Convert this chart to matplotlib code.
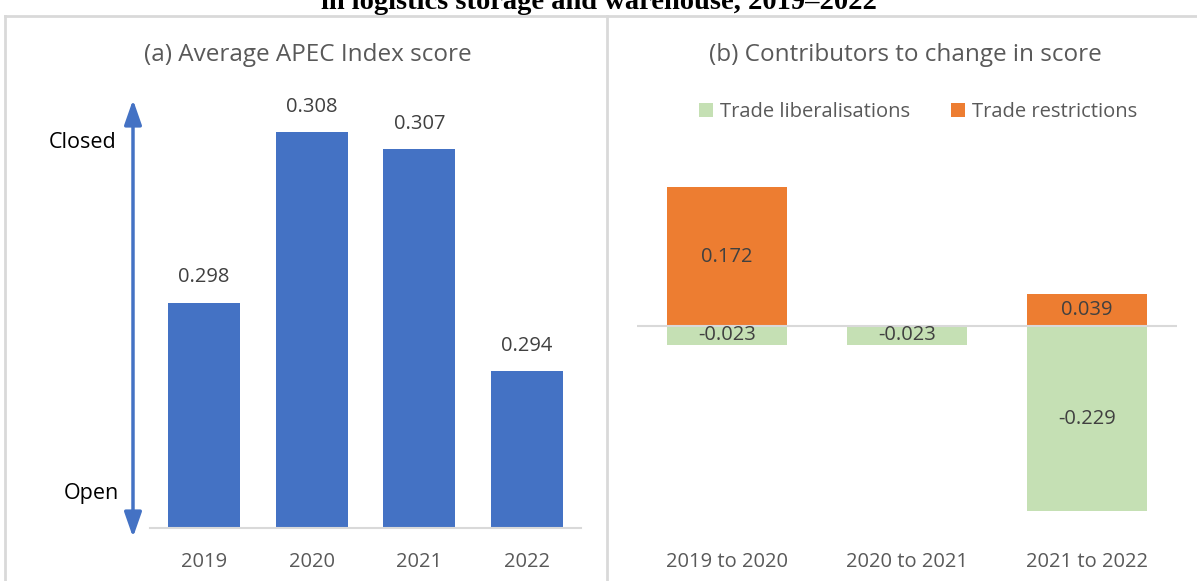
import matplotlib
matplotlib.use('Agg')
import matplotlib.pyplot as plt
from matplotlib.patches import Patch

plt.rcParams['font.family'] = ['Open Sans', 'DejaVu Sans']

# Panel (a) data
anios = ['2019', '2020', '2021', '2022']
indice = [0.298, 0.308, 0.307, 0.294]

# Panel (b) data
periodos = ['2019 to 2020', '2020 to 2021', '2021 to 2022']
liberalizaciones = [-0.023, -0.023, -0.229]
restricciones = [0.172, 0.0, 0.039]

azul = '#4472C4'
naranja = '#ED7D31'
verde = '#C5E0B4'
texto = '#404040'
gris = '#595959'
borde = '#D9D9D9'

fig = plt.figure(figsize=(11.97, 5.81), dpi=100)

# Bordes de los paneles
fig.add_artist(plt.Line2D([5/1197, 1], [1-16/581, 1-16/581], color=borde, lw=2))
fig.add_artist(plt.Line2D([5/1197, 5/1197], [0, 1-16/581], color=borde, lw=2))
fig.add_artist(plt.Line2D([607/1197, 607/1197], [0, 1-16/581], color=borde, lw=2))

# Titulo recortado arriba
fig.text(0.5, 1-9/581, 'in logistics storage and warehouse, 2019\u20132022',
         ha='center', va='baseline', fontsize=20.5, fontweight='bold',
         family='Liberation Serif')

# ---- Panel (a)
ax1 = fig.add_axes([150/1197, 1-528/581, 431/1197, 425/581])
x1 = range(len(anios))
barras = ax1.bar(x1, indice, width=0.67, color=azul)
ax1.set_ylim(0.2848, 0.3097)
ax1.set_xlim(-0.5, 3.5)
for b, v in zip(barras, indice):
    ax1.annotate(f'{v:.3f}', (b.get_x() + b.get_width()/2, v), xytext=(0, 11),
                 textcoords='offset points', ha='center', va='bottom',
                 fontsize=14.5, color=texto)
ax1.set_xticks(list(x1))
ax1.set_xticklabels(anios, fontsize=14.5, color=gris)
ax1.tick_params(axis='x', length=0, pad=17)
ax1.set_yticks([])
for s in ['top', 'right', 'left']:
    ax1.spines[s].set_visible(False)
ax1.spines['bottom'].set_color(borde)
ax1.spines['bottom'].set_linewidth(1.5)

fig.text(308/1197, 1-55/581, '(a) Average APEC Index score', ha='center',
         va='center', fontsize=17.5, color=gris)

# Flecha doble
fig.add_artist(matplotlib.patches.FancyArrowPatch(
    (133/1197, 1-540/581), (133/1197, 1-97/581), transform=fig.transFigure,
    arrowstyle='<|-|>,head_length=10,head_width=3.5', color=azul, lw=2.5,
    mutation_scale=1.5))
fig.text(116/1197, 1-143/581, 'Closed', ha='right', va='center', fontsize=15.5, color='black')
fig.text(119/1197, 1-494/581, 'Open', ha='right', va='center', fontsize=15.5, color='black')

# ---- Panel (b)
ax2 = fig.add_axes([637/1197, 1-528/581, 540/1197, 425/581])
x2 = range(len(periodos))
b_lib = ax2.bar(x2, liberalizaciones, width=0.67, color=verde)
b_res = ax2.bar(x2, restricciones, width=0.67, color=naranja)
ax2.set_ylim(-0.25, 0.276)
ax2.set_xlim(-0.5, 2.5)
ax2.axhline(0, color=borde, lw=1.5, zorder=3)
for grupo, vals in [(b_lib, liberalizaciones), (b_res, restricciones)]:
    for b, v in zip(grupo, vals):
        if v == 0:
            continue
        ax2.text(b.get_x() + b.get_width()/2, v/2, f'{v:.3f}', ha='center',
                 va='center', fontsize=14.5, color=texto, zorder=4)
ax2.set_xticks(list(x2))
ax2.set_xticklabels(periodos, fontsize=14.5, color=gris)
ax2.tick_params(axis='x', length=0, pad=17)
ax2.set_yticks([])
for s in ax2.spines.values():
    s.set_visible(False)

fig.text(905/1197, 1-55/581, '(b) Contributors to change in score', ha='center',
         va='center', fontsize=17.5, color=gris)

handles = [Patch(facecolor=verde), Patch(facecolor=naranja)]
fig.legend(handles, ['Trade liberalisations', 'Trade restrictions'],
           loc='center', bbox_to_anchor=(918/1197, 1-112/581), ncol=2,
           frameon=False, fontsize=14.5, labelcolor=gris, handlelength=0.7,
           handleheight=0.7, handletextpad=0.35, columnspacing=2.0)

fig.savefig('out.png', dpi=100)
